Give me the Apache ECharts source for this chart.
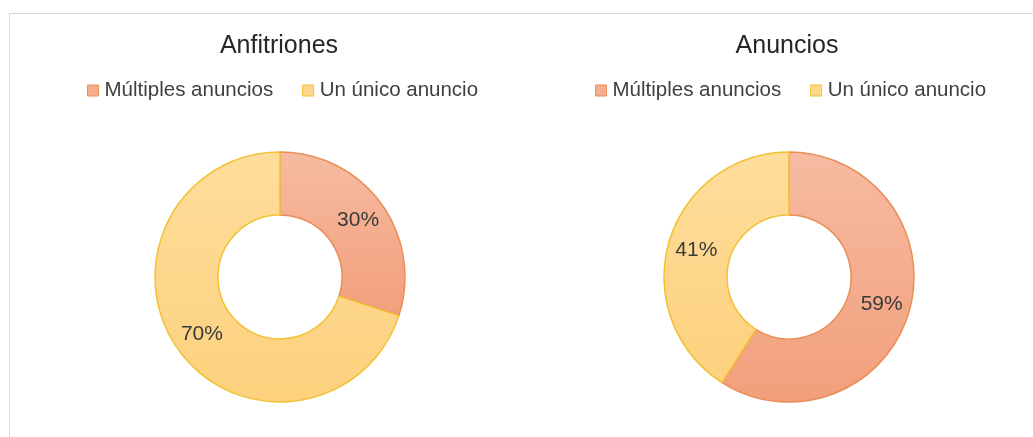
<!DOCTYPE html>
<html>
<head>
<meta charset="utf-8">
<title>Anfitriones y anuncios</title>
<script src="https://cdn.jsdelivr.net/npm/echarts@6/dist/echarts.min.js"></script>
<style>
  html, body { margin: 0; padding: 0; background: #ffffff; }
  #chart { width: 1033px; height: 437px; }
</style>
</head>
<body>
<div id="chart"></div>
<script>
// Categories shared by both donuts
const categories = ['Múltiples anuncios', 'Un único anuncio'];
// Share of hosts (left) and of listings (right), in percent
const anfitrionesValues = [30, 70];
const anunciosValues = [59, 41];
const chartTitles = ['Anfitriones', 'Anuncios'];

const FONT = '"Liberation Sans", Arial, sans-serif';

const fills = [
  new echarts.graphic.LinearGradient(0, 0, 0, 1, [
    { offset: 0, color: '#F6BBA1' },
    { offset: 1, color: '#F29F7B' }
  ]),
  new echarts.graphic.LinearGradient(0, 0, 0, 1, [
    { offset: 0, color: '#FEDD9C' },
    { offset: 1, color: '#FDD17D' }
  ])
];
const strokes = ['#EA8D56', '#F1C131'];

function buildData(values) {
  return categories.map((name, i) => ({
    name: name,
    value: values[i],
    itemStyle: { color: fills[i], borderColor: strokes[i], borderWidth: 1.5 }
  }));
}

function legendAt(left) {
  return {
    left: left,
    top: 80,
    padding: 0,
    orient: 'horizontal',
    icon: 'rect',
    itemWidth: 11,
    itemHeight: 11,
    itemGap: 29,
    selectedMode: false,
    data: categories.map((name, i) => ({
      name: name,
      itemStyle: { color: i === 0 ? '#F4AD8D' : '#FDD88C', borderColor: strokes[i], borderWidth: 1 }
    })),
    textStyle: { fontFamily: FONT, fontSize: 20.5, color: '#404040', padding: [0, 0, 0, 1] }
  };
}

function donut(center, values) {
  return {
    type: 'pie',
    center: center,
    radius: [62, 125],
    startAngle: 90,
    clockwise: true,
    avoidLabelOverlap: false,
    silent: true,
    label: {
      show: true,
      position: 'inside',
      formatter: '{d}%',
      fontFamily: FONT,
      fontSize: 21,
      color: '#3a3a3a'
    },
    labelLine: { show: false },
    emphasis: { disabled: true },
    data: buildData(values)
  };
}

const chart = echarts.init(document.getElementById('chart'), null, { renderer: 'canvas' });
chart.setOption({
  animation: false,
  backgroundColor: '#ffffff',
  graphic: [{
    type: 'rect',
    shape: { x: 9.5, y: 13.5, width: 1100, height: 500 },
    style: { fill: 'none', stroke: '#D9D9D9', lineWidth: 1 },
    silent: true
  }],
  title: [
    { text: chartTitles[0], left: 274, top: 29, textAlign: 'center',
      textStyle: { fontFamily: FONT, fontSize: 25, fontWeight: 'normal', color: '#262626' } },
    { text: chartTitles[1], left: 782, top: 29, textAlign: 'center',
      textStyle: { fontFamily: FONT, fontSize: 25, fontWeight: 'normal', color: '#262626' } }
  ],
  legend: [legendAt(87), legendAt(595)],
  series: [
    donut([280, 277], anfitrionesValues),
    donut([789, 277], anunciosValues)
  ]
});
</script>
</body>
</html>
